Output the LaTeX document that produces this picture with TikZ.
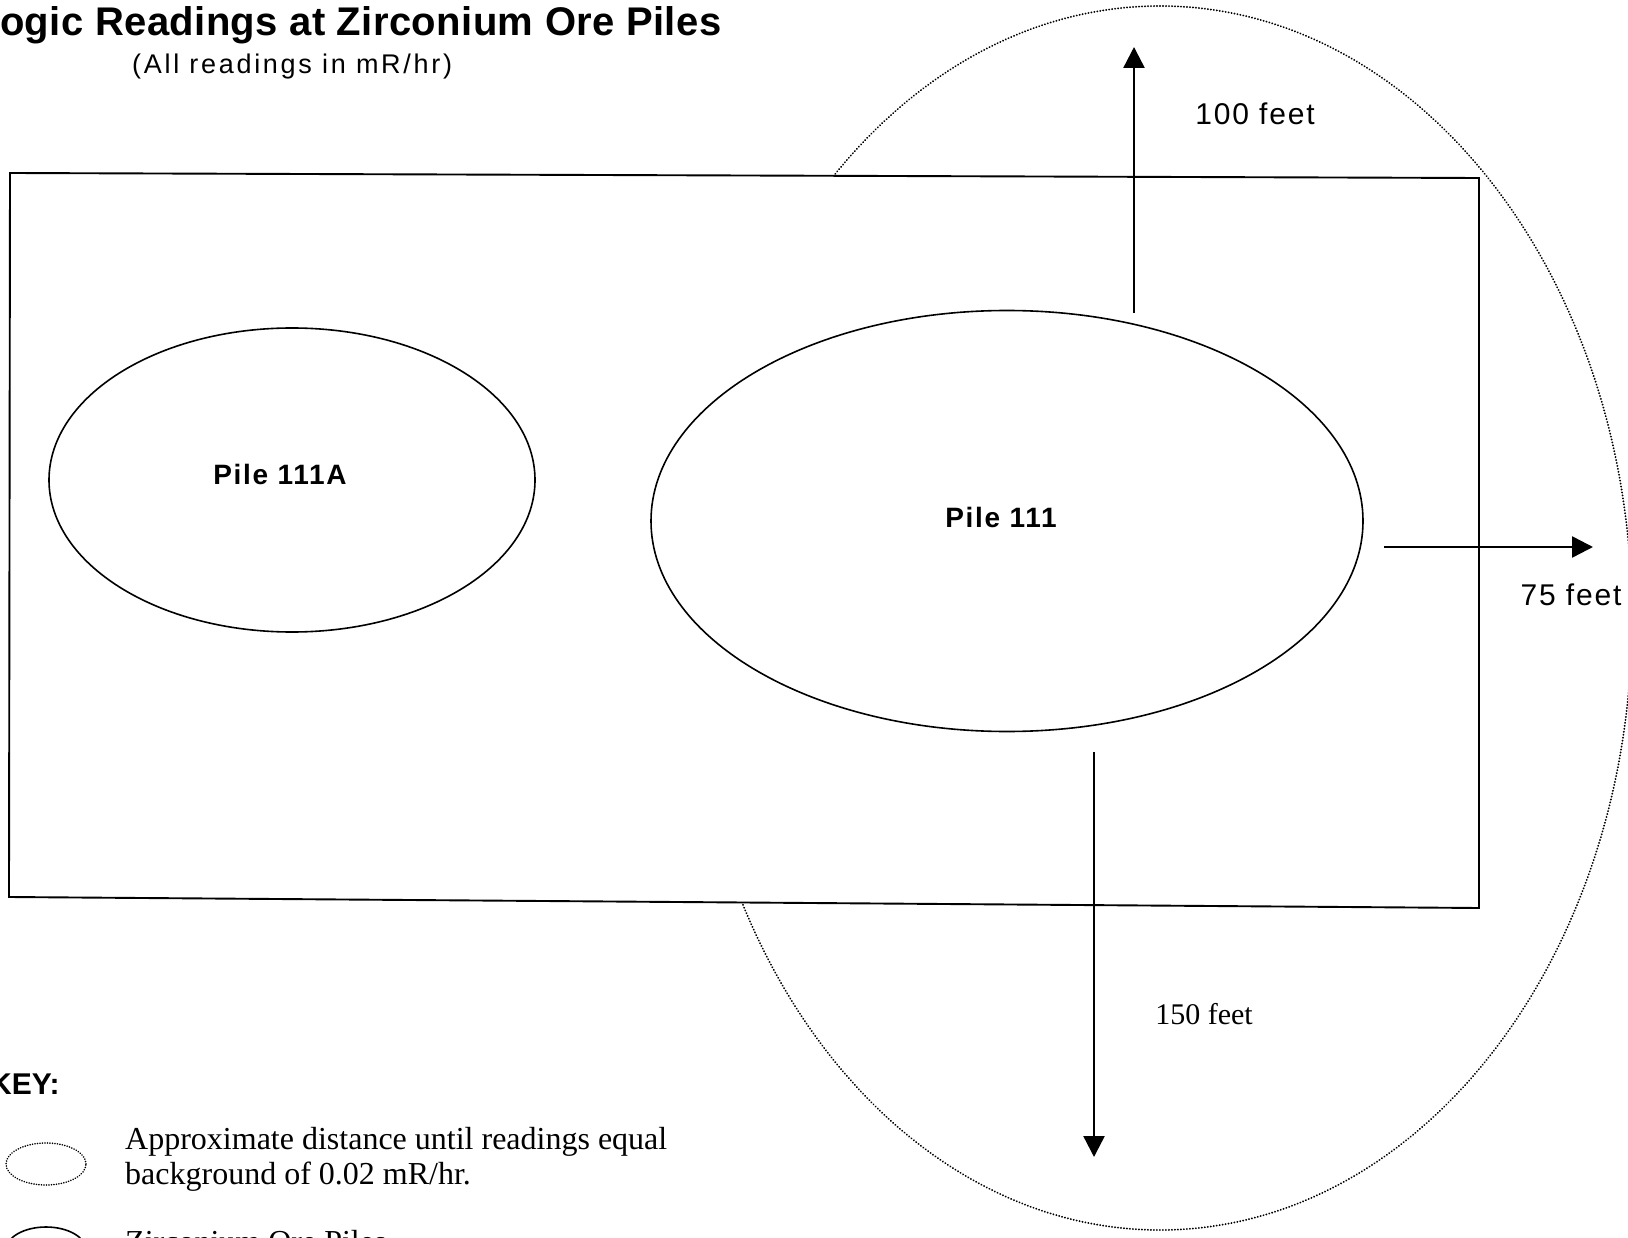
\documentclass[tikz,border=0pt]{standalone}
\usepackage{fontspec}
\setmainfont{Liberation Sans}
\newfontfamily\keyserif{Liberation Serif}
\newfontfamily\titlefont[LetterSpace=1]{Liberation Sans}
\newfontfamily\subfont[LetterSpace=10]{Liberation Sans}
\newfontfamily\pilefont[LetterSpace=6]{Liberation Sans}
\newfontfamily\feetfont[LetterSpace=6]{Liberation Sans}
\usetikzlibrary{shapes.geometric,arrows.meta}
\begin{document}
\begin{tikzpicture}[x=1pt,y=-1pt,
  outline/.style={line width=1.9pt},
  bgline/.style={line width=2pt, line cap=round, dash pattern=on 0.1pt off 2.9pt},
  pile/.style={ellipse, draw, line width=1.6pt, inner sep=0pt},
  dist/.style={line width=2.4pt, -{Triangle[length=21pt,width=21pt]}},
  lbl/.style={inner sep=0pt}]
\useasboundingbox (0,0) rectangle (1628,1238);
\fill[white] (0,0) rectangle (1628,1238);
% background-distance outline (hidden behind the site rectangle)
\draw[bgline] (1160,618) ellipse [x radius=472pt, y radius=612pt];
% site rectangle
\filldraw[outline, fill=white] (10,173) -- (1479,178) -- (1479,908) -- (9,897) -- cycle;
% title
\node[lbl, anchor=base west, font=\titlefont\bfseries\fontsize{40}{46}\selectfont] (title) at (0,36) {ogic Readings at Zirconium Ore Piles};
\node[lbl, anchor=base west, font=\subfont\fontsize{27}{32}\selectfont] (subtitle) at (132,74) {(All readings in mR/hr)};
% piles
\node[pile, minimum width=486pt, minimum height=304pt] (p111a) at (292,480) {};
\node[pile, minimum width=712pt, minimum height=421pt] (p111) at (1007,521) {};
\node[lbl, font=\pilefont\bfseries\fontsize{28}{32}\selectfont] (t111a) at (280,474) {Pile 111A};
\node[lbl, font=\pilefont\bfseries\fontsize{28}{32}\selectfont] (t111) at (1001,517) {Pile 111};
% distance arrows
\coordinate (upS) at (1134,313);
\coordinate (upE) at (1134,47);
\coordinate (rtS) at (1384,547);
\coordinate (rtE) at (1593,547);
\coordinate (dnS) at (1094,752);
\coordinate (dnE) at (1094,1157);
\draw[dist] (upS) -- (upE);
\draw[dist] (rtS) -- (rtE);
\draw[dist] (dnS) -- (dnE);
\node[lbl, font=\feetfont\fontsize{30}{34}\selectfont] (d100) at (1255,114) {100 feet};
\node[lbl, font=\feetfont\fontsize{30}{34}\selectfont] (d75) at (1571,595) {75 feet};
\node[lbl, font=\keyserif\fontsize{30}{34}\selectfont] (d150) at (1204,1014) {150 feet};
% key
\node[lbl, anchor=base west, font=\bfseries\fontsize{30}{34}\selectfont] (key) at (-10,1094) {KEY:};
\node[ellipse, draw, bgline, line width=1.7pt, dash pattern=on 0.1pt off 2.4pt, minimum width=80pt, minimum height=42pt, inner sep=0pt] (kdot) at (46,1164) {};
\node[lbl, anchor=base west, font=\keyserif\fontsize{32}{36}\selectfont] (kt1) at (125,1149) {Approximate distance until readings equal};
\node[lbl, anchor=base west, font=\keyserif\fontsize{32}{36}\selectfont] (kt2) at (125,1184) {background of 0.02 mR/hr.};
\node[pile, minimum width=80pt, minimum height=46pt] (ksolid) at (46,1250) {};
\node[lbl, anchor=base west, font=\keyserif\fontsize{32}{36}\selectfont] (kt3) at (125,1252) {Zirconium Ore Piles};
\end{tikzpicture}
\end{document}
